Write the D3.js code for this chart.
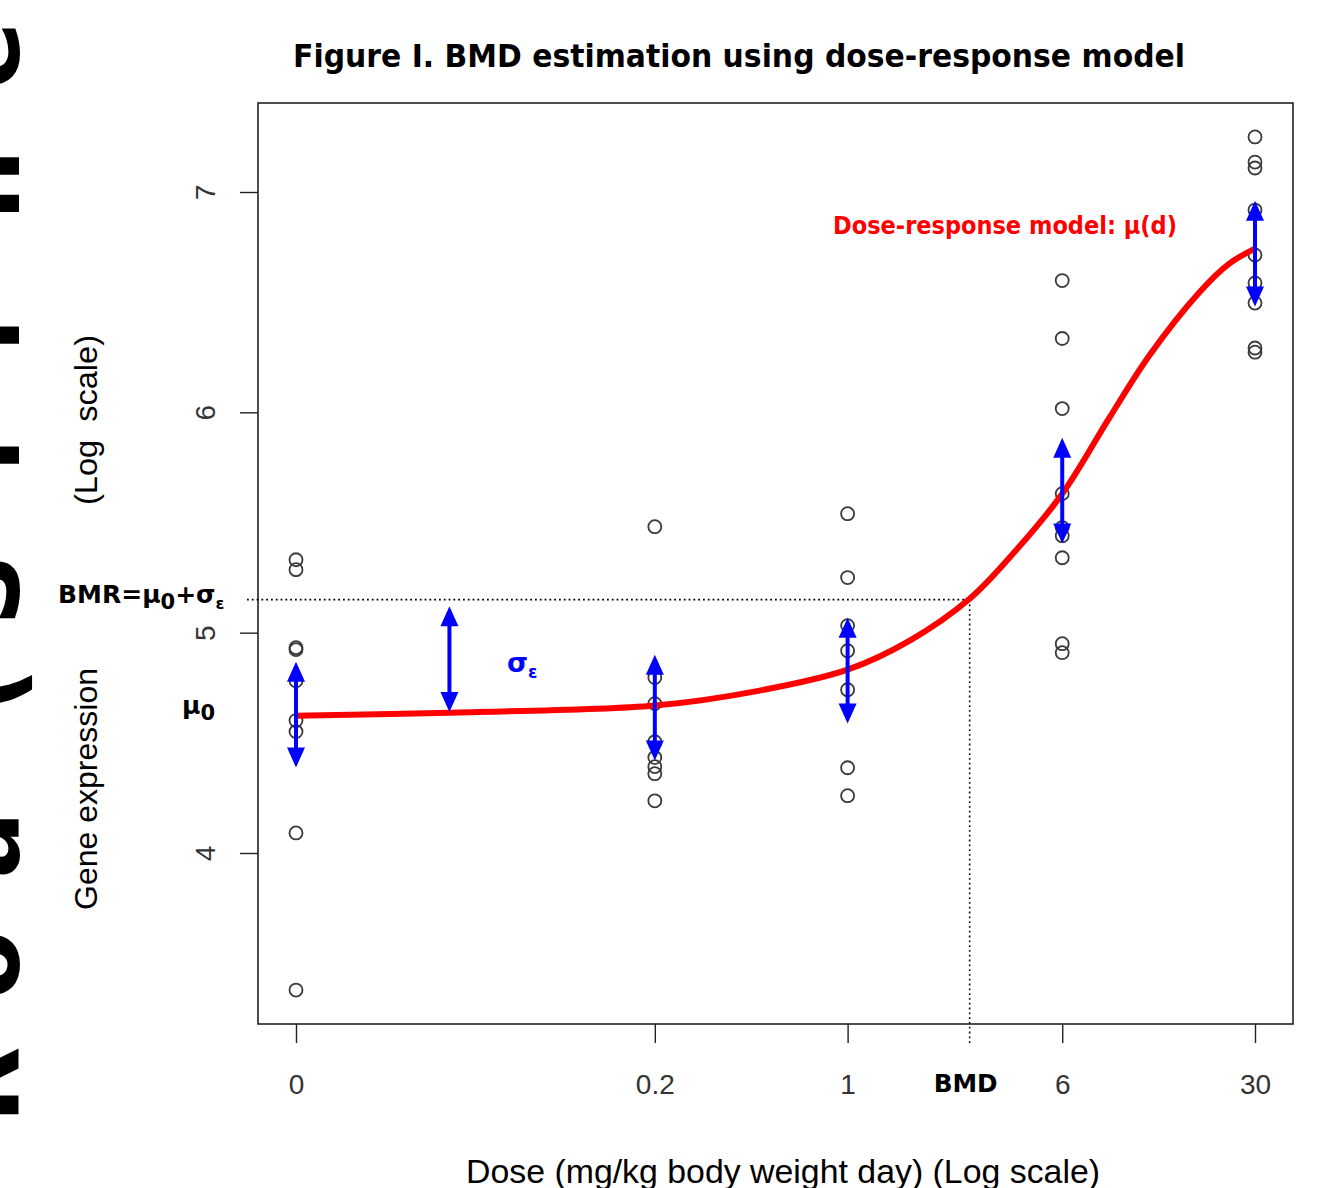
<!DOCTYPE html>
<html>
<head>
<meta charset="utf-8">
<script src="https://cdn.jsdelivr.net/npm/d3@7"></script>
<style>
  body { margin: 0; background: #fff; }
  svg { display: block; }
</style>
</head>
<body>
<svg id="chart"></svg>
<script>
// dose levels and tick labels
var doses = [0, 0.2, 1, 6, 30];
var doseLabels = ["0", "0.2", "1", "6", "30"];
var yTicks = [4, 5, 6, 7];

var obs0 = [5.331, 5.286, 4.932, 4.923, 4.782, 4.601, 4.551, 4.091, 3.378];
var obs02 = [5.481, 4.796, 4.678, 4.505, 4.433, 4.392, 4.36, 4.237];
var obs1 = [5.54, 5.25, 5.032, 4.918, 4.741, 4.387, 4.26];
var obs6 = [6.598, 6.335, 6.017, 5.631, 5.477, 5.44, 5.34, 4.95, 4.909];
var obs30 = [7.25, 7.136, 7.109, 6.918, 6.714, 6.587, 6.496, 6.292, 6.273];

// fitted dose-response curve mu(d)
var curveDose = [0, 0.036, 0.2, 0.48, 1, 1.68, 2.77, 3.86, 6, 8.9, 12.4, 18.8, 24.2, 30];
var curveValue = [4.623, 4.637, 4.669, 4.737, 4.832, 4.964, 5.154, 5.34, 5.63, 5.976, 6.257, 6.543, 6.675, 6.743];

// sd arrows centred on the curve at each dose
var arrowCenter = [4.628, 4.66, 4.828, 5.645, 6.72];
var arrowHalf = 0.24;
var sigmaArrow = { dose: 0.036, from: 4.64, to: 5.12 };

var bmr = 5.15;
var bmd = 2.77;
var zeroAt = 0.01; // where dose 0 sits on the log axis

var width = 1321;
var height = 1188;
var box = { left: 258, right: 1293, top: 103, bottom: 1024 };

var svg = d3.select("#chart").attr("width", width).attr("height", height);

var x = d3.scaleLog().domain([zeroAt, 30]).range([296, 1255]);
var y = d3.scaleLinear().domain([4, 7]).range([853, 192]);

function xd(d) {
  return x(d === 0 ? zeroAt : d);
}

var arial = "'Liberation Sans', Arial, sans-serif";
var tahoma = "'DejaVu Sans', Verdana, sans-serif";

// big cut-off letters on the left edge
var edgeLetters = ["R", "o", "a", "(", "S", "l", "l", "n", "e"];
var edgeY = [1085, 965, 845, 690, 590, 455, 335, 185, 55];
svg.selectAll(".edge")
  .data(edgeLetters)
  .enter()
  .append("text")
  .attr("class", "edge")
  .attr("transform", function (d, i) {
    return "translate(19," + edgeY[i] + ")rotate(-90)";
  })
  .attr("text-anchor", "middle")
  .style("font", "bold 100px " + tahoma)
  .text(function (d) { return d; });

// title
svg.append("text")
  .attr("x", 739)
  .attr("y", 67)
  .attr("text-anchor", "middle")
  .attr("textLength", 892)
  .attr("lengthAdjust", "spacingAndGlyphs")
  .style("font", "bold 32px " + tahoma)
  .text("Figure I. BMD estimation using dose-response model");

// plot box
svg.append("rect")
  .attr("x", box.left)
  .attr("y", box.top)
  .attr("width", box.right - box.left)
  .attr("height", box.bottom - box.top)
  .attr("fill", "none")
  .attr("stroke", "#222")
  .attr("stroke-width", 1.6);

// x axis
var xAxis = d3.axisBottom(x)
  .tickValues(doses.map(function (d) { return d === 0 ? zeroAt : d; }))
  .tickFormat(function (d, i) { return doseLabels[i]; })
  .tickSize(19)
  .tickPadding(31);

var gx = svg.append("g")
  .attr("transform", "translate(0," + box.bottom + ")")
  .call(xAxis);
gx.select(".domain").remove();
gx.selectAll("line").attr("stroke", "#222").attr("stroke-width", 1.4);
gx.selectAll("text")
  .attr("fill", "#333")
  .style("font", "28px " + arial);

// y axis
var yAxis = d3.axisLeft(y).tickValues(yTicks).tickSize(18).tickFormat(d3.format("d"));
var gy = svg.append("g")
  .attr("transform", "translate(" + box.left + ",0)")
  .call(yAxis);
gy.select(".domain").remove();
gy.selectAll("line").attr("stroke", "#222").attr("stroke-width", 1.4);
gy.selectAll("text")
  .attr("x", null)
  .attr("dy", null)
  .attr("text-anchor", "middle")
  .attr("transform", "translate(-43,0)rotate(-90)")
  .attr("fill", "#333")
  .style("font", "28px " + arial);

// axis titles
svg.append("text")
  .attr("x", 783)
  .attr("y", 1183)
  .attr("text-anchor", "middle")
  .attr("textLength", 634)
  .attr("lengthAdjust", "spacingAndGlyphs")
  .style("font", "33px " + arial)
  .text("Dose (mg/kg body weight day) (Log scale)");

svg.append("text")
  .attr("transform", "translate(97,789)rotate(-90)")
  .attr("text-anchor", "middle")
  .attr("textLength", 242)
  .attr("lengthAdjust", "spacingAndGlyphs")
  .style("font", "32px " + arial)
  .text("Gene expression");

svg.append("text")
  .attr("transform", "translate(97,420)rotate(-90)")
  .attr("text-anchor", "middle")
  .attr("textLength", 170)
  .attr("lengthAdjust", "spacingAndGlyphs")
  .style("font", "32px " + arial)
  .style("white-space", "pre")
  .text("(Log  scale)");

// BMR and BMD guide lines
svg.append("line")
  .attr("x1", 247)
  .attr("x2", xd(bmd))
  .attr("y1", y(bmr))
  .attr("y2", y(bmr))
  .attr("stroke", "#000")
  .attr("stroke-width", 1.8)
  .attr("stroke-dasharray", "1.8,3");

svg.append("line")
  .attr("x1", xd(bmd))
  .attr("x2", xd(bmd))
  .attr("y1", y(bmr))
  .attr("y2", box.bottom + 19)
  .attr("stroke", "#000")
  .attr("stroke-width", 1.5)
  .attr("stroke-dasharray", "1.8,3");

// observations
var groups = [obs0, obs02, obs1, obs6, obs30];
var points = [];
groups.forEach(function (vals, i) {
  vals.forEach(function (v) {
    points.push({ dose: doses[i], value: v });
  });
});

svg.selectAll(".pt")
  .data(points)
  .enter()
  .append("circle")
  .attr("class", "pt")
  .attr("cx", function (d) { return xd(d.dose); })
  .attr("cy", function (d) { return y(d.value); })
  .attr("r", 6.5)
  .attr("fill", "none")
  .attr("stroke", "#3a3a3a")
  .attr("stroke-width", 1.8);

// fitted curve
var line = d3.line()
  .x(function (d) { return xd(d[0]); })
  .y(function (d) { return y(d[1]); })
  .curve(d3.curveCatmullRom.alpha(0.5));

svg.append("path")
  .datum(d3.zip(curveDose, curveValue))
  .attr("d", line)
  .attr("fill", "none")
  .attr("stroke", "#ff0000")
  .attr("stroke-width", 6);

// blue double-headed arrows
function arrow(px, v1, v2) {
  var yTop = y(Math.max(v1, v2));
  var yBot = y(Math.min(v1, v2));
  var head = 20;
  var hw = 9;
  svg.append("line")
    .attr("x1", px).attr("x2", px)
    .attr("y1", yTop + head - 2).attr("y2", yBot - head + 2)
    .attr("stroke", "#0000ff")
    .attr("stroke-width", 4);
  svg.append("path")
    .attr("d", "M" + px + "," + yTop + "L" + (px - hw) + "," + (yTop + head) + "L" + (px + hw) + "," + (yTop + head) + "Z")
    .attr("fill", "#0000ff");
  svg.append("path")
    .attr("d", "M" + px + "," + yBot + "L" + (px - hw) + "," + (yBot - head) + "L" + (px + hw) + "," + (yBot - head) + "Z")
    .attr("fill", "#0000ff");
}

doses.forEach(function (d, i) {
  arrow(xd(d), arrowCenter[i] - arrowHalf, arrowCenter[i] + arrowHalf);
});
arrow(xd(sigmaArrow.dose), sigmaArrow.from, sigmaArrow.to);

// annotations
var bmrText = svg.append("text")
  .attr("x", 58)
  .attr("y", 603)
  .style("font", "bold 25px " + tahoma);
bmrText.append("tspan").text("BMR=\u03bc");
bmrText.append("tspan").attr("dy", 6).style("font-size", "21px").text("0");
bmrText.append("tspan").attr("dy", -6).text("+\u03c3");
bmrText.append("tspan").attr("dy", 6).style("font-size", "16px").text("\u03b5");

var muText = svg.append("text")
  .attr("x", 182)
  .attr("y", 714)
  .style("font", "bold 25px " + tahoma);
muText.append("tspan").text("\u03bc");
muText.append("tspan").attr("dy", 6).style("font-size", "21px").text("0");

var sigText = svg.append("text")
  .attr("x", 507)
  .attr("y", 672)
  .attr("fill", "#0000ff")
  .style("font", "bold 27px " + tahoma);
sigText.append("tspan").text("\u03c3");
sigText.append("tspan").attr("dy", 6).style("font-size", "17px").text("\u03b5");

svg.append("text")
  .attr("x", 833)
  .attr("y", 234)
  .attr("fill", "#ff0000")
  .attr("textLength", 344)
  .attr("lengthAdjust", "spacingAndGlyphs")
  .style("font", "bold 24px " + tahoma)
  .text("Dose-response model: \u03bc(d)");

svg.append("text")
  .attr("x", xd(bmd) - 4)
  .attr("y", 1092)
  .attr("text-anchor", "middle")
  .attr("textLength", 64)
  .attr("lengthAdjust", "spacingAndGlyphs")
  .style("font", "bold 24px " + tahoma)
  .text("BMD");
</script>
</body>
</html>
